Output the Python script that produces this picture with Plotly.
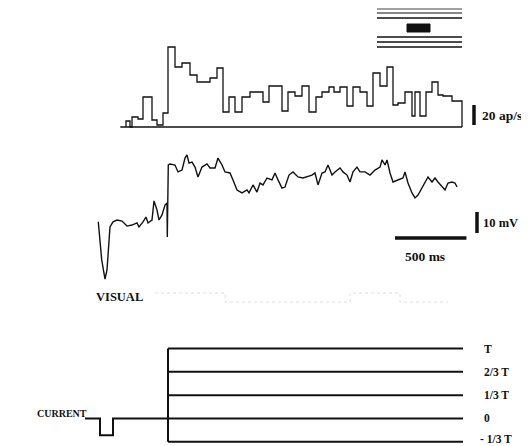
import plotly.graph_objects as go

# ---------------- data ----------------
# Peristimulus histogram: step start times (ms, 0 = current step onset) and firing rate (ap/s)
hist_t = [-294, -266, -252, -210, -175, -112, -77, -35,
          0, 49, 98, 154, 203, 294, 343, 385, 427, 469,
          518, 574, 665, 707, 798, 840, 889, 938, 987, 1036,
          1078, 1127, 1162, 1204, 1253, 1295, 1344, 1393, 1435, 1484,
          1533, 1575, 1610, 1659, 1708, 1729, 1764, 1806, 1848, 1890,
          1925, 1988]
hist_rate = [6, 0, 10, 8, 30, 7, 2, 14,
             80, 60, 64, 52, 45, 49, 59, 15, 30, 15,
             30, 35, 25, 41, 16, 35, 31, 41, 15, 30,
             35, 40, 35, 40, 21, 40, 35, 21, 54, 41,
             60, 22, 24, 35, 11, 35, 11, 35, 45, 32,
             31, 26]
hist_end = 2058

# Membrane potential trace (ms, mV)
vm_t = [-488, -464, -441, -427, -406, -385, -357, -322, -287, -252, -217, -203, -175, -154,
        -140, -112, -98, -77, -63, -42, -21, -7, -5, 2, 14, 49, 70, 98, 119, 133, 147, 168,
        189, 210, 238, 273, 294, 329, 350, 378, 399, 434, 455, 483, 518, 553, 567, 595, 623,
        644, 665, 693, 728, 749, 770, 798, 819, 847, 875, 910, 945, 973, 1008, 1029, 1050,
        1078, 1099, 1120, 1148, 1169, 1204, 1225, 1253, 1274, 1295, 1323, 1344, 1379, 1414,
        1449, 1484, 1498, 1519, 1533, 1554, 1575, 1610, 1645, 1659, 1680, 1708, 1729, 1750,
        1778, 1799, 1820, 1848, 1869, 1890, 1918, 1939, 1960, 1988, 2009, 2023]
vm_mv = [-73.9, -92.1, -101.2, -96.9, -76.4, -74.0, -73.1, -73.6, -76.0, -75.5, -74.5, -76.4,
         -74.0, -71.7, -74.5, -73.1, -64.0, -68.3, -73.1, -70.7, -66.0, -65.0, -81.2, -46.9,
         -46.4, -46.9, -50.2, -49.3, -43.6, -42.1, -46.0, -45.5, -47.9, -52.6, -47.9, -46.4,
         -48.3, -48.3, -43.6, -46.9, -50.2, -50.7, -54.0, -58.8, -60.2, -58.8, -60.2, -56.4,
         -59.8, -55.5, -56.4, -53.1, -54.0, -50.7, -54.0, -57.9, -57.4, -51.7, -50.2, -52.6,
         -53.1, -52.6, -51.7, -50.7, -56.4, -50.7, -50.2, -46.9, -51.7, -50.2, -48.3, -50.2,
         -51.7, -55.0, -50.2, -47.9, -50.2, -50.2, -51.7, -49.3, -47.9, -44.5, -46.9, -44.5,
         -50.7, -55.0, -54.0, -53.1, -50.2, -55.5, -60.2, -62.6, -61.2, -57.9, -55.0, -52.6,
         -55.0, -53.1, -55.0, -57.4, -58.8, -55.5, -55.0, -55.5, -57.4]

# Visual stimulus monitor (faint), on/off levels
visual_t = [-91, 400, 1274, 1624, 1960]
visual_level = [1, 0, 1, 0]

# Injected current: pre-step test pulse and step levels (fraction of threshold T)
pulse_t = [-581, -476, -385, 0]
pulse_level = [0, -0.24, 0, 0]
step_end = 2065
current_levels = [1, 2/3, 1/3, 0, -1/3]
current_labels = ["T", "2/3 T", "1/3 T", "0", "- 1/3 T"]

# Scale bars
rate_bar = 20      # ap/s
volt_bar = 10      # mV
time_bar = 500     # ms

# The page body has an 8 px margin; the figure is sized to fill the rest of the window.
OFF = 8
W, H = 529 - OFF, 446 - OFF
FONT = "Liberation Serif"
INK = "#111111"


def px(xpix):
    return (xpix - OFF) / W


def py(ypix):
    return 1 - (ypix - OFF) / H


fig = go.Figure()

# ---------------- histogram ----------------
hx = [hist_t[0]] + hist_t + [hist_end, hist_end]
hy = [0] + hist_rate + [hist_rate[-1], 0]
fig.add_trace(go.Scatter(x=hx, y=hy, mode="lines", line=dict(color=INK, width=1.3, shape="hv"),
                         yaxis="y", hoverinfo="skip"))
fig.add_trace(go.Scatter(x=[hist_t[0] - 40, hist_end], y=[0, 0], mode="lines",
                         line=dict(color=INK, width=1.6), yaxis="y", hoverinfo="skip"))
fig.add_trace(go.Scatter(x=[2142, 2142], y=[2, 2 + rate_bar], mode="lines",
                         line=dict(color=INK, width=3.5), yaxis="y", hoverinfo="skip"))

# ---------------- membrane potential ----------------
fig.add_trace(go.Scatter(x=vm_t, y=vm_mv, mode="lines", line=dict(color=INK, width=1.4),
                         yaxis="y2", hoverinfo="skip"))
fig.add_trace(go.Scatter(x=[2163, 2163], y=[-79.3, -79.3 + volt_bar], mode="lines",
                         line=dict(color=INK, width=3.5), yaxis="y2", hoverinfo="skip"))
fig.add_trace(go.Scatter(x=[1589, 1589 + time_bar], y=[-81.7, -81.7], mode="lines",
                         line=dict(color=INK, width=3.5), yaxis="y2", hoverinfo="skip"))

# ---------------- visual monitor ----------------
fig.add_trace(go.Scatter(x=visual_t, y=visual_level + [visual_level[-1]], mode="lines",
                         line=dict(color="#dedede", width=1, dash="dot", shape="hv"),
                         yaxis="y3", hoverinfo="skip"))

# ---------------- current ----------------
fig.add_trace(go.Scatter(x=pulse_t, y=pulse_level, mode="lines",
                         line=dict(color=INK, width=2, shape="hv"), yaxis="y4", hoverinfo="skip"))
fig.add_trace(go.Scatter(x=[0, 0], y=[min(current_levels), max(current_levels)], mode="lines",
                         line=dict(color=INK, width=2), yaxis="y4", hoverinfo="skip"))
for lv in current_levels:
    fig.add_trace(go.Scatter(x=[0, step_end], y=[lv, lv], mode="lines",
                             line=dict(color=INK, width=2), yaxis="y4", hoverinfo="skip"))

ann = []
for lv, lab in zip(current_levels, current_labels):
    neg = lab.startswith("-")
    ann.append(dict(x=2170 if neg else 2198, y=lv, xref="x", yref="y4",
                    text="<b>%s</b>" % lab, showarrow=False, xanchor="left", yanchor="middle",
                    yshift=3 if neg else 0,
                    font=dict(family=FONT, size=11.5, color=INK)))
ann.append(dict(x=2184, y=12, xref="x", yref="y", text="<b>20 ap/s</b>", showarrow=False,
                xanchor="left", yanchor="middle", font=dict(family=FONT, size=13.5, color=INK)))
ann.append(dict(x=2191, y=-74.3, xref="x", yref="y2", text="<b>10 mV</b>", showarrow=False,
                xanchor="left", yanchor="middle", font=dict(family=FONT, size=12.5, color=INK)))
ann.append(dict(x=1799, y=-90.7, xref="x", yref="y2", text="<b>500 ms</b>", showarrow=False,
                xanchor="center", yanchor="middle", font=dict(family=FONT, size=13.5, color=INK)))
ann.append(dict(x=px(94), y=py(297), xref="paper", yref="paper", text="<b>VISUAL</b>",
                showarrow=False, xanchor="left", yanchor="middle",
                font=dict(family=FONT, size=12.5, color=INK)))
ann.append(dict(x=px(35), y=py(413), xref="paper", yref="paper", text="<b>CURRENT</b>",
                showarrow=False, xanchor="left", yanchor="middle",
                font=dict(family=FONT, size=10, color=INK)))

# ---------------- stimulus icon (top right) ----------------
shapes = []
for yy, w in [(9, 0.8), (13, 1.2), (18, 1.6), (37, 1.4), (42, 1.4), (47, 1.6)]:
    shapes.append(dict(type="line", xref="paper", yref="paper", x0=px(377), x1=px(462),
                       y0=py(yy), y1=py(yy), line=dict(color=INK, width=w)))
shapes.append(dict(type="rect", xref="paper", yref="paper", x0=px(407), x1=px(430),
                   y0=py(32), y1=py(24), fillcolor=INK, line=dict(color=INK, width=1)))

hidden = dict(visible=False, showgrid=False, zeroline=False, fixedrange=True)
fig.update_layout(
    width=W, height=H, margin=dict(l=0, r=0, t=0, b=0),
    paper_bgcolor="white", plot_bgcolor="white", showlegend=False,
    xaxis=dict(range=[(OFF - 168) * 7, (529 - 168) * 7], **hidden),
    yaxis=dict(domain=[py(135), py(40)], range=[-8, 87], **hidden),
    yaxis2=dict(domain=[py(290), py(140)], range=[-106.43, -35], anchor="x", **hidden),
    yaxis3=dict(domain=[py(310), py(280)], range=[-0.889, 2.444], anchor="x", **hidden),
    yaxis4=dict(domain=[0, py(335)], range=[-0.393, 1.193], anchor="x", **hidden),
    annotations=ann, shapes=shapes,
)

fig.write_html("out.html")
